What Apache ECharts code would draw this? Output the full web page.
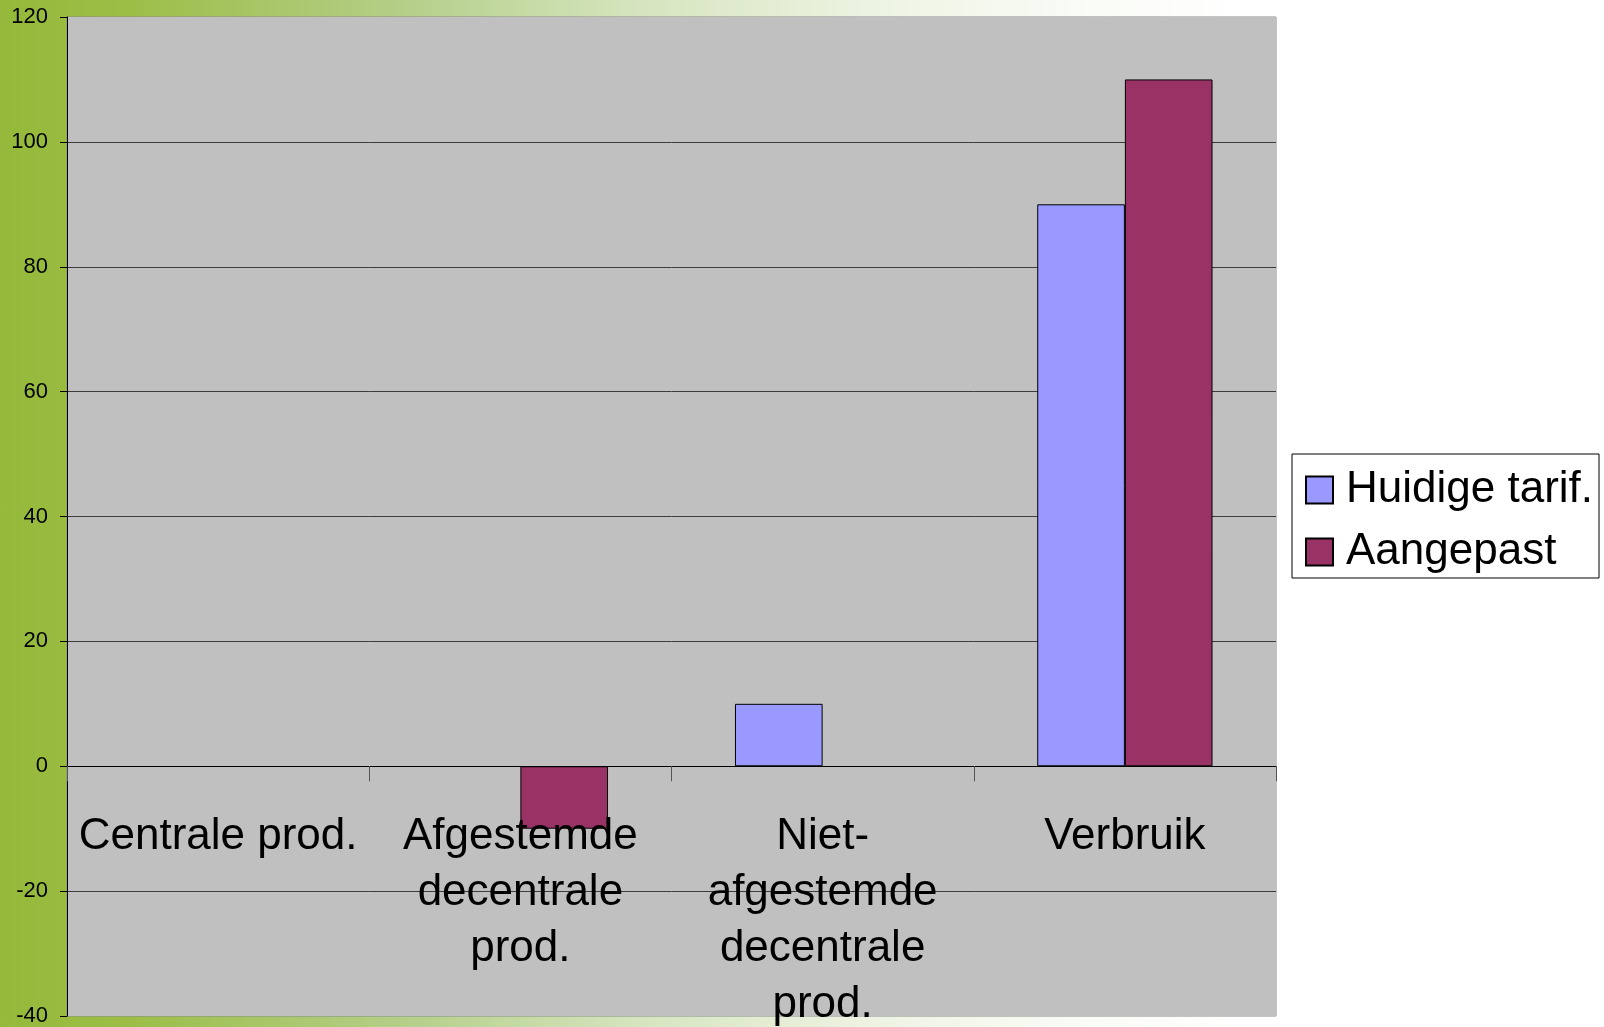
<!DOCTYPE html>
<html>
<head>
<meta charset="utf-8">
<script src="https://cdn.jsdelivr.net/npm/echarts@6/dist/echarts.min.js"></script>
<style>
    html, body { margin: 0; padding: 0; }
    body {
        width: 1604px; height: 1027px; overflow: hidden;
        background: linear-gradient(to right, #95b93a 0%, #9cbe47 8%, #b3cf88 25%, #d6e5bf 40%, #eef4e4 55%, #fafcf7 68%, #ffffff 78%);
    }
    #chart { width: 1604px; height: 1027px; }
</style>
</head>
<body>
<div id="chart"></div>
<script>
// Categories (labels wrapped as in the original slide)
const categories = ['Centrale prod.', 'Afgestemde\ndecentrale\nprod.', 'Niet-\nafgestemde\ndecentrale\nprod.', 'Verbruik'];
// Series values
const huidigeTarif = [0, 0, 10, 90];
const aangepast = [0, -10, 0, 110];
// Value axis range
const yMin = -40;
const yMax = 120;
const yStep = 20;

const FONT = "'Liberation Sans', Arial, sans-serif";

// zero-height bars are not drawn in the original
const noZero = arr => arr.map(v => (v === 0 ? '-' : v));

const chart = echarts.init(document.getElementById('chart'));
const option = {
    backgroundColor: 'transparent',
    animation: false,
    textStyle: { fontFamily: FONT },
    grid: {
        left: 67, top: 17, right: 328, bottom: 11,
        outerBoundsMode: 'none',
        containLabel: false,
        show: true,
        backgroundColor: 'transparent',
        borderColor: '#8a8a8a',
        borderWidth: 1
    },
    legend: {
        orient: 'vertical',
        left: 1292, top: 454,
        backgroundColor: '#ffffff',
        borderColor: '#000000',
        borderWidth: 1,
        borderRadius: 0,
        padding: [13, 6, 3, 13],
        itemWidth: 27,
        itemHeight: 27,
        itemGap: 16,
        icon: 'rect',
        textStyle: { fontSize: 44, lineHeight: 46, color: '#000', fontFamily: FONT, padding: [0, 0, 0, 8] },
        data: ['Huidige tarif.', 'Aangepast']
    },
    xAxis: {
        type: 'category',
        data: categories,
        z: 5,
        axisLine: { onZero: true, lineStyle: { color: '#000', width: 1 } },
        axisTick: { show: true, length: 15, lineStyle: { color: '#555' } },
        // labels stay at the grid edge in v6, pull them up under the zero line
        axisLabel: { show: true, fontSize: 44, lineHeight: 56, color: '#000', margin: -207, fontFamily: FONT, interval: 0, hideOverlap: false }
    },
    yAxis: {
        type: 'value',
        min: yMin, max: yMax, interval: yStep,
        axisLine: { show: true, lineStyle: { color: '#000', width: 1 } },
        axisTick: { show: true, length: 7, lineStyle: { color: '#000' } },
        axisLabel: { fontSize: 22, color: '#000', margin: 19, fontFamily: FONT },
        splitArea: { show: true, areaStyle: { color: ['#c0c0c0'], opacity: 1 } },
        splitLine: { show: true, showMinLine: false, showMaxLine: false, lineStyle: { color: '#3c3c3c', width: 1 } }
    },
    series: [
        {
            name: 'Huidige tarif.',
            type: 'bar',
            data: noZero(huidigeTarif),
            barWidth: '29%',
            barGap: '0%',
            itemStyle: { color: '#9999ff', borderColor: '#000', borderWidth: 1 }
        },
        {
            name: 'Aangepast',
            type: 'bar',
            data: noZero(aangepast),
            barWidth: '29%',
            barGap: '0%',
            itemStyle: { color: '#993366', borderColor: '#000', borderWidth: 1 }
        }
    ]
};
chart.setOption(option);
</script>
</body>
</html>
